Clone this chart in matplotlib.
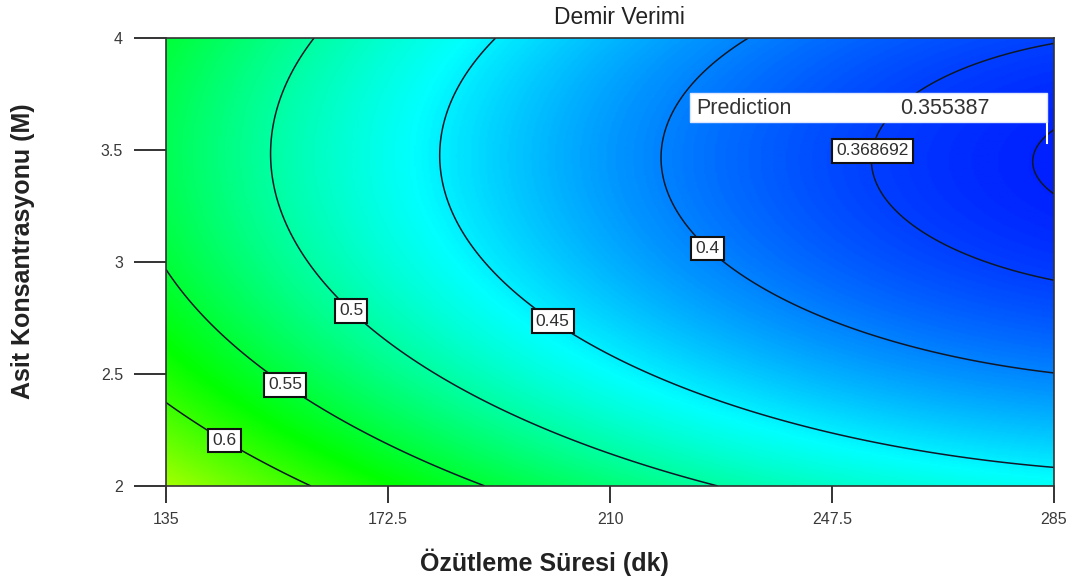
import numpy as np
import matplotlib
matplotlib.use("Agg")
import matplotlib.pyplot as plt
from matplotlib.colors import LinearSegmentedColormap
from matplotlib.patches import Rectangle

plt.rcParams['font.family'] = ['Liberation Sans', 'DejaVu Sans']

# factor ranges (actual units)
time_range = [135, 285]          # Özütleme Süresi (dk)
acid_range = [2, 4]              # Asit Konsantrasyonu (M)
time_ticks = [135, 172.5, 210, 247.5, 285]
acid_ticks = [2, 2.5, 3, 3.5, 4]

# quadratic response model in coded units (A = time, B = acid)
# order: intercept, A, B, AB, A^2, B^2
model_coef = [0.42123, -0.09184, -0.04810, 0.00211, 0.03522, 0.05141]

# labelled contour levels + the unlabelled inner one through the flag
labelled_levels = [0.368692, 0.4, 0.45, 0.5, 0.55, 0.6]
label_text = {0.368692: "0.368692", 0.4: "0.4", 0.45: "0.45",
              0.5: "0.5", 0.55: "0.55", 0.6: "0.6"}
inner_level = [0.355387]

# flagged prediction point
flag_time, flag_acid, flag_value = 283.8, 3.53, 0.355387

fig = plt.figure(figsize=(10.75, 5.8), dpi=100)
ax = fig.add_axes([166/1075, 94/580, 888/1075, 448/580])

t = np.linspace(time_range[0], time_range[1], 500)
c = np.linspace(acid_range[0], acid_range[1], 300)
T, C = np.meshgrid(t, c)
A = (T - np.mean(time_range)) / (np.diff(time_range)[0] / 2)
B = (C - np.mean(acid_range)) / (np.diff(acid_range)[0] / 2)
b = model_coef
Z = b[0] + b[1]*A + b[2]*B + b[3]*A*B + b[4]*A*A + b[5]*B*B

cmap = LinearSegmentedColormap.from_list(
    "design", ['#0000ff', '#00ffff', '#00ff00', '#ffff00', '#ff0000'])
ax.imshow(Z, extent=[*time_range, *acid_range], origin='lower', aspect='auto',
          cmap=cmap, vmin=0.339, vmax=0.81, interpolation='bilinear', zorder=0)

ax.contour(T, C, Z, levels=inner_level, colors='#101828', linewidths=1.1, zorder=2)
cs = ax.contour(T, C, Z, levels=labelled_levels, colors='#101828', linewidths=1.1, zorder=2)

# label spots, in the order of labelled_levels
label_spots = [(253.4, 3.50), (227.2, 3.08), (200.7, 2.75), (166.9, 2.80),
               (155.6, 2.47), (145.3, 2.22)]
labels = ax.clabel(cs, fmt=label_text, inline=False, manual=label_spots,
                   fontsize=12.5, colors='#2e2e2e')
for txt in labels:
    txt.set_rotation(0)
    txt.set_bbox(dict(boxstyle='square,pad=0.25', facecolor='white',
                      edgecolor='#111111', linewidth=1.5))
    txt.set_zorder(5)

# prediction flag
ax.plot([flag_time, flag_time], [flag_acid, 3.625], color='white', lw=1.5, zorder=6)
ax.add_patch(Rectangle((690/1075, 1-122/580), 357/1075, 29/580, transform=fig.transFigure,
                       facecolor='white', edgecolor='#dde6ff', lw=1.0, zorder=7))
fig.text(696/1075, 1-108/580, "Prediction", fontsize=15.5, color='#333333',
         va='center', ha='left', zorder=8)
fig.text(900/1075, 1-108/580, f"{flag_value:.6f}", fontsize=15.5, color='#333333',
         va='center', ha='left', zorder=8)

ax.set_xlim(*time_range)
ax.set_ylim(*acid_range)
ax.set_xticks(time_ticks)
ax.set_xticklabels(["135", "172.5", "210", "247.5", "285"])
ax.set_yticks(acid_ticks)
ax.set_yticklabels(["2", "2.5", "3", "3.5", "4"])
ax.tick_params(axis='x', length=12, width=1.4, color='#333333', pad=7,
               labelsize=11.5, labelcolor='#3a3a3a')
ax.tick_params(axis='y', length=23, width=1.4, color='#333333', pad=8,
               labelsize=11.5, labelcolor='#3a3a3a')
for sp in ax.spines.values():
    sp.set_color('#333333')
    sp.set_linewidth(1.2)

fig.text(619/1075, 1-18/580, "Demir Verimi", fontsize=16.5, color='#222222',
         ha='center', va='center')
fig.text(544/1075, 1-562/580, "Özütleme Süresi (dk)", fontsize=18, fontweight='bold',
         color='#222222', ha='center', va='center')
fig.text(23/1075, 1-251/580, "Asit Konsantrasyonu (M)", fontsize=18, fontweight='bold',
         color='#222222', ha='center', va='center', rotation=90)

fig.savefig("out.png", dpi=100)
